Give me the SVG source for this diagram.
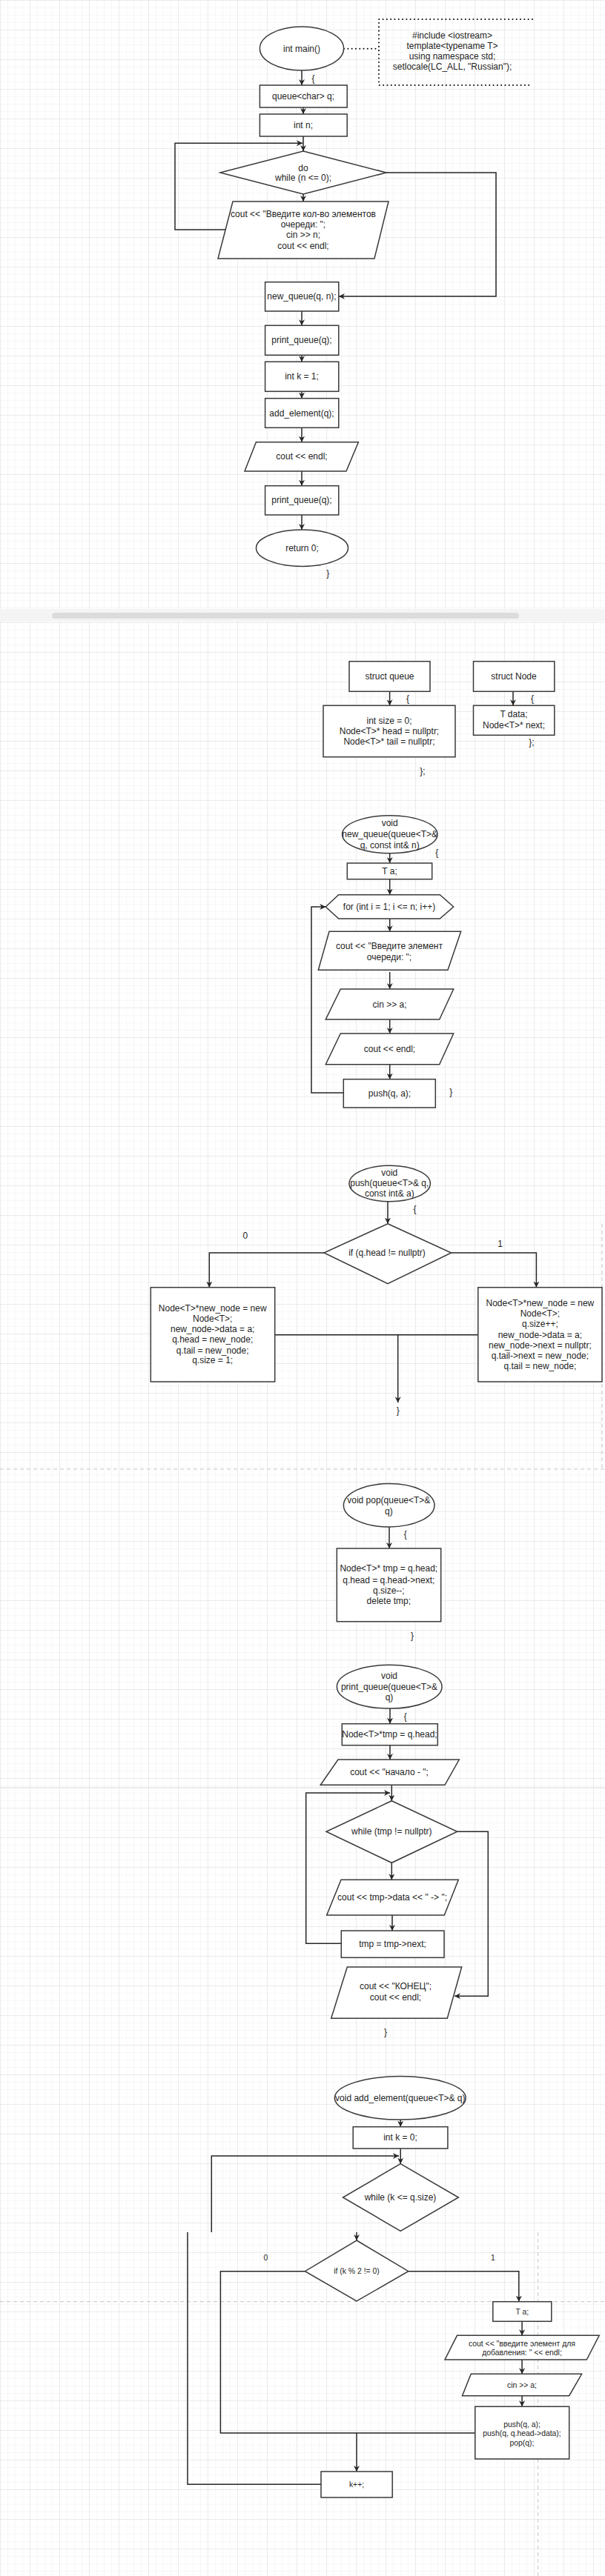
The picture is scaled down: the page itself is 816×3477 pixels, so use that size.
<svg xmlns="http://www.w3.org/2000/svg" width="816" height="3477" viewBox="0 0 816 3477">
<style>
.s{fill:#fff;stroke:#3a3a3a;stroke-width:1.5}
.c{fill:none;stroke:#262626;stroke-width:1.5}
.ca{fill:none;stroke:#262626;stroke-width:1.5;marker-end:url(#arr)}
.t{font-family:"Liberation Sans",Arial,sans-serif;font-size:12px;fill:#1e1e1e;text-anchor:middle;dominant-baseline:central}
.sm{font-size:10.4px}
.dot{fill:none;stroke:#111;stroke-width:2;stroke-dasharray:0.1 5.2;stroke-linecap:round}
.pg{fill:none;stroke:#c4c4c4;stroke-width:1;stroke-dasharray:5 4}
</style>
<defs>
<pattern id="minor" width="10" height="10" patternUnits="userSpaceOnUse"><path d="M10 0H0V10" fill="none" stroke="#efefef" stroke-width="1"/></pattern>
<pattern id="grid" width="40" height="40" patternUnits="userSpaceOnUse"><rect width="40" height="40" fill="url(#minor)"/><path d="M40 0H0V40" fill="none" stroke="#dedede" stroke-width="1"/></pattern>
<marker id="arr" viewBox="0 0 10 10" refX="10" refY="5" markerWidth="8" markerHeight="8" markerUnits="userSpaceOnUse" orient="auto"><path d="M0,0 L10,5 L0,10 L3,5 z" fill="#262626"/></marker>
</defs>
<rect width="816" height="3477" fill="#fff"/>
<rect width="816" height="3477" fill="url(#grid)"/>
<g id="separators">
<rect x="0" y="822" width="816" height="17" fill="#f4f4f4"/>
<rect x="70" y="827" width="630" height="8" rx="4" fill="#dcdcdc"/>
<path class="pg" d="M0,1983H816"/>
<path class="pg" d="M812,1652V1983"/>
<path d="M0,2413H816" stroke="#e4e4e4" stroke-width="1.5"/>
<path class="pg" d="M0,3106.7H816"/>
<path class="pg" d="M725.7,3013V3477"/>
</g>
<g id="connectors">
<path class="dot" d="M464,65.7H511"/>
<path class="ca" d="M407,95V115"/>
<path class="ca" d="M409,145V154"/>
<path class="ca" d="M409,184V204"/>
<path class="ca" d="M304,310H236V193.3H408"/>
<path class="ca" d="M409,262V272"/>
<path class="ca" d="M521,233H669V400H457"/>
<path class="ca" d="M407,420V439.3"/>
<path class="ca" d="M407,479.3V488.3"/>
<path class="ca" d="M407,528.3V537.7"/>
<path class="ca" d="M407,577.3V596.7"/>
<path class="ca" d="M407,636V655.7"/>
<path class="ca" d="M407,695V715"/>
<path class="ca" d="M525.6,933.3V952.3"/>
<path class="ca" d="M692,933.3V952.3"/>
<path class="ca" d="M525.7,1151.7V1165"/>
<path class="ca" d="M525.7,1186.7V1207.7"/>
<path class="ca" d="M525.7,1240V1257.3"/>
<path class="ca" d="M525.7,1312V1335"/>
<path class="ca" d="M525.7,1376V1395"/>
<path class="ca" d="M525.7,1436.7V1456.7"/>
<path class="ca" d="M463.3,1475H420V1224H439.3"/>
<path class="ca" d="M523,1621.7V1651.7"/>
<path class="ca" d="M437,1691H282.3V1737.7"/>
<path class="ca" d="M608.6,1691H723.4V1737.7"/>
<path class="c" d="M370.7,1801.7H644.8"/>
<path class="ca" d="M536.7,1801.7V1893.3"/>
<path class="ca" d="M525,2061V2090"/>
<path class="ca" d="M526,2306V2326.7"/>
<path class="ca" d="M526,2355.7V2375"/>
<path class="ca" d="M528.3,2409.3V2430.7"/>
<path class="ca" d="M460.3,2623.3H412.7V2420H526"/>
<path class="ca" d="M528.3,2514.3V2537.3"/>
<path class="ca" d="M529,2585V2606"/>
<path class="ca" d="M616.7,2472.3H658.3V2694.3H613"/>
<path class="ca" d="M540.2,2861V2870.7"/>
<path class="ca" d="M540.2,2900V2920.7"/>
<path class="ca" d="M285.3,3013V2910H538"/>
<path class="ca" d="M481,3013V3024"/>
<path class="c" d="M411.4,3065.7H297.4V3284H640.8"/>
<path class="ca" d="M550.8,3065.7H699.8V3106.7"/>
<path class="ca" d="M704.1,3133.3V3152.3"/>
<path class="ca" d="M704.1,3185V3204.3"/>
<path class="ca" d="M704.1,3233.7V3248.3"/>
<path class="ca" d="M481,3284V3336"/>
<path class="c" d="M433,3353.3H253V3013"/>
</g>
<g id="main_start"><ellipse class="s" cx="407" cy="65.5" rx="56.6" ry="29.5"/><text class="t" x="407" y="65.5">int main()</text></g>
<g id="main_note"><path class="dot" d="M718,26H511V115H718"/><text class="t" x="610"><tspan x="610" y="47.7">#include &lt;iostream&gt;</tspan><tspan x="610" y="62">template&lt;typename T&gt;</tspan><tspan x="610" y="76">using namespace std;</tspan><tspan x="610" y="90">setlocale(LC_ALL, "Russian");</tspan></text></g>
<g id="main_brace_open"><text class="t" x="422.6" y="106">{</text></g>
<g id="main_q"><rect class="s" x="350.4" y="115" width="117.8" height="30"/><text class="t" x="409" y="130">queue&lt;char&gt; q;</text></g>
<g id="main_n"><rect class="s" x="350.4" y="154" width="117.8" height="30"/><text class="t" x="409" y="169">int n;</text></g>
<g id="main_do"><polygon class="s" points="409,204 521,233 409,262 297,233"/><text class="t"><tspan x="409" y="226.7">do</tspan><tspan x="409" y="239.5">while (n &lt;= 0);</tspan></text></g>
<g id="main_input"><polygon class="s" points="314,272 524,272 505,349 294,349"/><text class="t"><tspan x="409" y="289">cout &lt;&lt; "Введите кол-во элементов</tspan><tspan x="409" y="303">очереди: ";</tspan><tspan x="409" y="316.7">cin &gt;&gt; n;</tspan><tspan x="409" y="331.7">cout &lt;&lt; endl;</tspan></text></g>
<g id="main_newq"><rect class="s" x="357.6" y="380.7" width="99.2" height="39.3"/><text class="t" x="407" y="400.3">new_queue(q, n);</text></g>
<g id="main_print1"><rect class="s" x="357.6" y="439.3" width="99.2" height="40"/><text class="t" x="407" y="459.3">print_queue(q);</text></g>
<g id="main_k"><rect class="s" x="357.6" y="488.3" width="99.2" height="40"/><text class="t" x="407" y="508.3">int k = 1;</text></g>
<g id="main_add"><rect class="s" x="357.6" y="537.7" width="99.2" height="39.6"/><text class="t" x="407" y="557.5">add_element(q);</text></g>
<g id="main_endl"><polygon class="s" points="345.4,596.7 483.4,596.7 467,636 330,636"/><text class="t" x="407" y="616.3">cout &lt;&lt; endl;</text></g>
<g id="main_print2"><rect class="s" x="357.6" y="655.7" width="99.2" height="39.3"/><text class="t" x="407" y="675.3">print_queue(q);</text></g>
<g id="main_return"><ellipse class="s" cx="407.5" cy="739.7" rx="62" ry="24.7"/><text class="t" x="407.5" y="739.7">return 0;</text></g>
<g id="main_brace_close"><text class="t" x="442.3" y="774">}</text></g>
<g id="struct_queue"><rect class="s" x="471" y="892.7" width="109" height="40.6"/><text class="t" x="525.5" y="913">struct queue</text></g>
<g id="struct_queue_body"><text class="t" x="550" y="943">{</text><rect class="s" x="436" y="952.3" width="178" height="69.4"/><text class="t"><tspan x="525" y="972.7">int size = 0;</tspan><tspan x="525" y="986.5">Node&lt;T&gt;* head = nullptr;</tspan><tspan x="525" y="1000.7">Node&lt;T&gt;* tail = nullptr;</tspan></text><text class="t" x="570" y="1040.7">};</text></g>
<g id="struct_node"><rect class="s" x="638.5" y="892.7" width="109.3" height="40.6"/><text class="t" x="693" y="913">struct Node</text></g>
<g id="struct_node_body"><text class="t" x="718" y="943">{</text><rect class="s" x="638.5" y="952.3" width="109.3" height="40"/><text class="t"><tspan x="693" y="964">T data;</tspan><tspan x="693" y="979.3">Node&lt;T&gt;* next;</tspan></text><text class="t" x="717" y="1002.3">};</text></g>
<g id="nq_start"><ellipse class="s" cx="525.8" cy="1126.2" rx="64.2" ry="25.5"/><text class="t"><tspan x="525.7" y="1111">void</tspan><tspan x="525.7" y="1126">new_queue(queue&lt;T&gt;&amp;</tspan><tspan x="525.7" y="1140.7">q, const int&amp; n)</tspan></text><text class="t" x="589.3" y="1150.7">{</text></g>
<g id="nq_ta"><rect class="s" x="468.3" y="1165" width="114.4" height="21.7"/><text class="t" x="525.5" y="1175.8">T a;</text></g>
<g id="nq_for"><polygon class="s" points="439.3,1224 456.7,1207.7 593.3,1207.7 611.7,1224 593.3,1240 456.7,1240"/><text class="t" x="525" y="1224">for (int i = 1; i &lt;= n; i++)</text></g>
<g id="nq_out"><polygon class="s" points="444,1257.3 621.7,1257.3 604,1309.3 429.3,1309.3"/><text class="t"><tspan x="525" y="1276.7">cout &lt;&lt; "Введите элемент</tspan><tspan x="525" y="1291.7">очереди: ";</tspan></text></g>
<g id="nq_cin"><polygon class="s" points="459.3,1335 611.7,1335 592.7,1376 439.3,1376"/><text class="t" x="525.5" y="1355.5">cin &gt;&gt; a;</text></g>
<g id="nq_endl"><polygon class="s" points="459.3,1395 611.7,1395 592.7,1436.7 439.3,1436.7"/><text class="t" x="525.5" y="1416">cout &lt;&lt; endl;</text></g>
<g id="nq_push"><rect class="s" x="463.3" y="1456.7" width="124" height="38.3"/><text class="t" x="525.5" y="1475.8">push(q, a);</text><text class="t" x="608.3" y="1474.3">}</text></g>
<g id="push_start"><ellipse class="s" cx="525.7" cy="1597.5" rx="54.7" ry="24.2"/><text class="t"><tspan x="525.3" y="1582.7">void</tspan><tspan x="525.3" y="1597.3">push(queue&lt;T&gt;&amp; q,</tspan><tspan x="525.3" y="1610.7">const int&amp; a)</tspan></text><text class="t" x="559.5" y="1631.7">{</text></g>
<g id="push_if"><polygon class="s" points="523,1651.7 608.6,1691 523,1732.7 437,1691"/><text class="t" x="522" y="1691">if (q.head != nullptr)</text><text class="t" x="330.8" y="1667.7">0</text><text class="t" x="674.6" y="1679.3">1</text></g>
<g id="push_empty"><rect class="s" x="203.3" y="1737.7" width="167.4" height="127.3"/><text class="t"><tspan x="286.7" y="1766">Node&lt;T&gt;*new_node = new</tspan><tspan x="286.7" y="1780">Node&lt;T&gt;;</tspan><tspan x="286.7" y="1794">new_node-&gt;data = a;</tspan><tspan x="286.7" y="1808.3">q.head = new_node;</tspan><tspan x="286.7" y="1822.7">q.tail = new_node;</tspan><tspan x="286.7" y="1836">q.size = 1;</tspan></text></g>
<g id="push_nonempty"><rect class="s" x="644.8" y="1737.7" width="167.2" height="127.3"/><text class="t"><tspan x="728.4" y="1759">Node&lt;T&gt;*new_node = new</tspan><tspan x="728.4" y="1773.3">Node&lt;T&gt;;</tspan><tspan x="728.4" y="1787.3">q.size++;</tspan><tspan x="728.4" y="1801.7">new_node-&gt;data = a;</tspan><tspan x="728.4" y="1815.7">new_node-&gt;next = nullptr;</tspan><tspan x="728.4" y="1830">q.tail-&gt;next = new_node;</tspan><tspan x="728.4" y="1844.3">q.tail = new_node;</tspan></text></g>
<g id="push_end"><text class="t" x="536.7" y="1904.3">}</text></g>
<g id="pop_start"><ellipse class="s" cx="524.7" cy="2031.8" rx="61.3" ry="29.2"/><text class="t"><tspan x="524.3" y="2025">void pop(queue&lt;T&gt;&amp;</tspan><tspan x="524.3" y="2040">q)</tspan></text><text class="t" x="546.7" y="2071">{</text></g>
<g id="pop_body"><rect class="s" x="454.3" y="2090" width="140.4" height="98.7"/><text class="t"><tspan x="524.3" y="2117.3">Node&lt;T&gt;* tmp = q.head;</tspan><tspan x="524.3" y="2132.7">q.head = q.head-&gt;next;</tspan><tspan x="524.3" y="2147.3">q.size--;</tspan><tspan x="524.3" y="2160.7">delete tmp;</tspan></text><text class="t" x="556" y="2208.3">}</text></g>
<g id="pq_start"><ellipse class="s" cx="525.2" cy="2276.7" rx="70.8" ry="29.4"/><text class="t"><tspan x="525" y="2262.3">void</tspan><tspan x="525" y="2276.7">print_queue(queue&lt;T&gt;&amp;</tspan><tspan x="525" y="2291">q)</tspan></text><text class="t" x="546.7" y="2316.7">{</text></g>
<g id="pq_tmp"><rect class="s" x="461.3" y="2326.7" width="129" height="29"/><text class="t" x="525.5" y="2341.2">Node&lt;T&gt;*tmp = q.head;</text></g>
<g id="pq_begin"><polygon class="s" points="456,2375 619.3,2375 600,2409.3 432.3,2409.3"/><text class="t" x="525" y="2392.3">cout &lt;&lt; "начало - ";</text></g>
<g id="pq_while"><polygon class="s" points="528.3,2430.7 616.7,2472.3 528.3,2514.3 440,2472.3"/><text class="t" x="528.3" y="2472.3">while (tmp != nullptr)</text></g>
<g id="pq_out"><polygon class="s" points="460,2537.3 618.3,2537.3 599.3,2585 440.7,2585"/><text class="t" x="529" y="2560.5">cout &lt;&lt; tmp-&gt;data &lt;&lt; " -&gt; ";</text></g>
<g id="pq_next"><rect class="s" x="460.3" y="2606" width="138.7" height="36.3"/><text class="t" x="529.5" y="2623.5">tmp = tmp-&gt;next;</text></g>
<g id="pq_end"><polygon class="s" points="468.3,2655 622.7,2655 603.3,2724.3 446.7,2724.3"/><text class="t"><tspan x="533.5" y="2681">cout &lt;&lt; "КОНЕЦ";</tspan><tspan x="533.5" y="2696">cout &lt;&lt; endl;</tspan></text><text class="t" x="520" y="2743.3">}</text></g>
<g id="add_start"><ellipse class="s" cx="539.8" cy="2831.8" rx="88.4" ry="29.2"/><text class="t" x="539.8" y="2831.7">void add_element(queue&lt;T&gt;&amp; q)</text></g>
<g id="add_k"><rect class="s" x="476.2" y="2870.7" width="127.7" height="29.3"/><text class="t" x="540" y="2885.3">int k = 0;</text></g>
<g id="add_while"><polygon class="s" points="540.2,2920.7 618.4,2966 540.2,3011.3 462.5,2966"/><text class="t" x="540" y="2966">while (k &lt;= q.size)</text></g>
<g id="add_if"><polygon class="s" points="481,3024 550.8,3065.7 481,3106 411.4,3065.7"/><text class="t sm" x="481" y="3065.7">if (k % 2 != 0)</text><text class="t sm" x="358.3" y="3047.3">0</text><text class="t sm" x="664.8" y="3047.3">1</text></g>
<g id="add_ta"><rect class="s" x="664.8" y="3106.7" width="79" height="26.6"/><text class="t sm" x="704.3" y="3120.3">T a;</text></g>
<g id="add_out"><polygon class="s" points="616.5,3152.3 808.2,3152.3 791.3,3185 600,3185"/><text class="t sm"><tspan x="704" y="3162.7">cout &lt;&lt; "введите элемент для</tspan><tspan x="704" y="3174.5">добавления: " &lt;&lt; endl;</tspan></text></g>
<g id="add_cin"><polygon class="s" points="635.3,3204.3 784.6,3204.3 767.7,3233.7 623.5,3233.7"/><text class="t sm" x="704" y="3219">cin &gt;&gt; a;</text></g>
<g id="add_push"><rect class="s" x="640.8" y="3248.3" width="126.9" height="70.7"/><text class="t sm"><tspan x="704" y="3271.7">push(q, a);</tspan><tspan x="704" y="3283.5">push(q, q.head-&gt;data);</tspan><tspan x="704" y="3296.7">pop(q);</tspan></text></g>
<g id="add_inc"><rect class="s" x="433" y="3336" width="96.2" height="35"/><text class="t sm" x="481" y="3353.5">k++;</text></g>
</svg>
